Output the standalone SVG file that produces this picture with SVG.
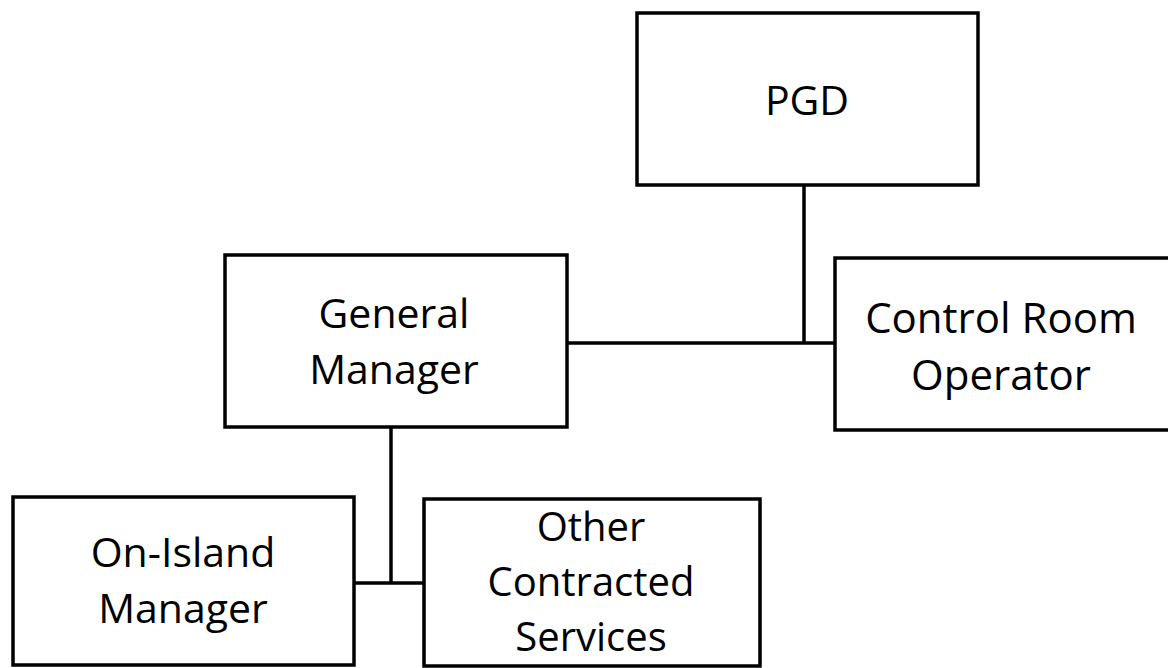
<svg xmlns="http://www.w3.org/2000/svg" width="1168" height="668" viewBox="0 0 1168 668">
<style>
.box{fill:#fff;stroke:#000;stroke-width:3.5}
.ln{fill:none;stroke:#000;stroke-width:3.5}
text{font-family:"Open Sans","Liberation Sans",sans-serif;font-size:41px;fill:#000;text-anchor:middle}
</style>
<rect width="1168" height="668" fill="#fff"/>
<g id="connectors">
<line class="ln" x1="804" y1="185" x2="804" y2="343"/>
<line class="ln" x1="567" y1="343" x2="835" y2="343"/>
<line class="ln" x1="391" y1="427" x2="391" y2="583"/>
<line class="ln" x1="354" y1="583" x2="424" y2="583"/>
</g>
<g id="pgd">
<rect class="box" x="637" y="13" width="341" height="172"/>
<text x="807" y="115">PGD</text>
</g>
<g id="general-manager">
<rect class="box" x="225" y="255" width="342" height="172"/>
<text x="394" y="328">General</text>
<text x="394" y="384">Manager</text>
</g>
<g id="control-room-operator">
<rect class="box" x="835" y="258" width="345" height="172"/>
<text x="1001" y="333" style="font-size:42px">Control Room</text>
<text x="1001" y="390" style="font-size:42px">Operator</text>
</g>
<g id="on-island-manager">
<rect class="box" x="13" y="497" width="341" height="168"/>
<text x="183" y="567">On-Island</text>
<text x="183" y="623">Manager</text>
</g>
<g id="other-contracted-services">
<rect class="box" x="424" y="499" width="336" height="167"/>
<text x="591" y="541" style="font-size:40px">Other</text>
<text x="591" y="596" style="font-size:40px">Contracted</text>
<text x="591" y="651" style="font-size:40px">Services</text>
</g>
</svg>
